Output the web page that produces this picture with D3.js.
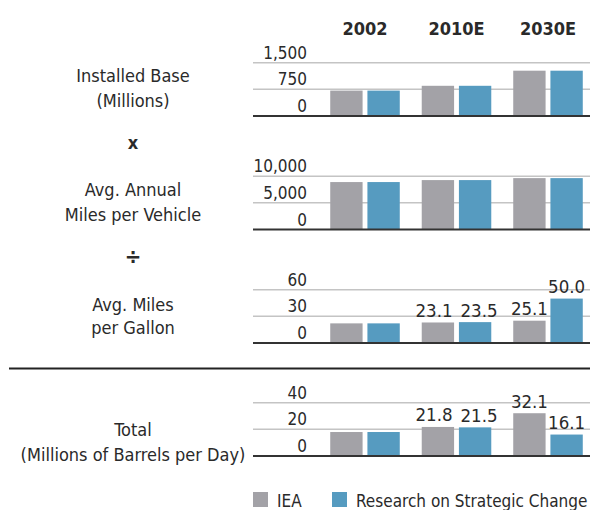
<!DOCTYPE html>
<html>
<head>
<meta charset="utf-8">
<script src="https://cdn.jsdelivr.net/npm/d3@7"></script>
<style>
  html, body { margin: 0; padding: 0; background: #fff; }
  svg { display: block; font-family: "DejaVu Sans Condensed", "DejaVu Sans", sans-serif; font-stretch: condensed; }
</style>
</head>
<body>
<svg id="chart" width="590" height="510"></svg>
<script>
// Data
const years = ["2002", "2010E", "2030E"];
const seriesNames = ["IEA", "Research on Strategic Change"];

const installedIEA = [715, 850, 1275];
const installedRSC = [715, 850, 1275];
const milesIEA = [8900, 9270, 9640];
const milesRSC = [8900, 9270, 9640];
const mpgIEA = [22.1, 23.1, 25.1];
const mpgRSC = [22.1, 23.5, 50.0];
const totalIEA = [18.0, 21.8, 32.1];
const totalRSC = [18.0, 21.5, 16.1];

const installedTicks = [0, 750, 1500];
const milesTicks = [0, 5000, 10000];
const mpgTicks = [0, 30, 60];
const totalTicks = [0, 20, 40];

// which years get a value label over the bars
const labelledYears = ["2010E", "2030E"];

const COLORS = { IEA: "#a3a2a7", "Research on Strategic Change": "#569bc0" };
const TEXT = "#2a2a2a";

const svg = d3.select("#chart");

const x = d3.scaleBand().domain(years).range([319.25, 593.75])
  .paddingInner(0.24).paddingOuter(0.12);
const xInner = d3.scaleBand().domain(seriesNames).range([0, x.bandwidth()])
  .paddingInner(0.13);

const fmt = d3.format(",");

// Year headers
svg.append("g").selectAll("text")
  .data(years)
  .join("text")
  .attr("x", d => x(d) + x.bandwidth() / 2)
  .attr("y", 35)
  .attr("text-anchor", "middle")
  .attr("font-size", 18)
  .attr("font-weight", "bold")
  .attr("fill", TEXT)
  .text(d => d);

const panels = [
  { lines: ["Installed Base", "(Millions)"], labelY: 82, ieaVals: installedIEA, rscVals: installedRSC, ticks: installedTicks, base: 116, labels: false },
  { lines: ["Avg. Annual", "Miles per Vehicle"], labelY: 196, ieaVals: milesIEA, rscVals: milesRSC, ticks: milesTicks, base: 229.5, labels: false },
  { lines: ["Avg. Miles", "per Gallon"], labelY: 311, ieaVals: mpgIEA, rscVals: mpgRSC, ticks: mpgTicks, base: 343, labels: true, lh: 23 },
  { lines: ["Total", "(Millions of Barrels per Day)"], labelY: 436, ieaVals: totalIEA, rscVals: totalRSC, ticks: totalTicks, base: 456, labels: true },
];

const PANEL_H = 53.3;

panels.forEach(p => {
  const g = svg.append("g");
  const y = d3.scaleLinear()
    .domain([0, p.ticks[p.ticks.length - 1]])
    .range([p.base, p.base - PANEL_H]);

  // gridlines
  g.selectAll("line.grid")
    .data(p.ticks.slice(1))
    .join("line")
    .attr("class", "grid")
    .attr("x1", 253).attr("x2", 590)
    .attr("y1", d => y(d)).attr("y2", d => y(d))
    .attr("stroke", "#c4c4c4")
    .attr("stroke-width", 1.5);

  // tick labels
  g.selectAll("text.tick")
    .data(p.ticks)
    .join("text")
    .attr("class", "tick")
    .attr("x", 307)
    .attr("y", d => y(d) - 4)
    .attr("text-anchor", "end")
    .attr("font-size", 17)
    .attr("fill", TEXT)
    .text(d => fmt(d));

  // bars
  const rows = [];
  years.forEach((yr, i) => {
    rows.push({ year: yr, series: "IEA", value: p.ieaVals[i] });
    rows.push({ year: yr, series: "Research on Strategic Change", value: p.rscVals[i] });
  });

  g.selectAll("rect")
    .data(rows)
    .join("rect")
    .attr("x", d => x(d.year) + xInner(d.series))
    .attr("y", d => y(d.value))
    .attr("width", xInner.bandwidth())
    .attr("height", d => y(0) - y(d.value))
    .attr("fill", d => COLORS[d.series]);

  // baseline
  g.append("line")
    .attr("x1", 253).attr("x2", 590)
    .attr("y1", y(0)).attr("y2", y(0))
    .attr("stroke", "#333")
    .attr("stroke-width", 2);

  if (p.labels) {
    const vals = g.selectAll("text.val")
      .data(rows.filter(d => labelledYears.includes(d.year)))
      .join("text")
      .attr("class", "val")
      .attr("x", d => x(d.year) + xInner(d.series) + xInner.bandwidth() / 2)
      .attr("y", d => y(d.value) - 5.5)
      .attr("text-anchor", "middle")
      .attr("font-size", 18.5)
      .attr("fill", TEXT)
      .text(d => d3.format(".1f")(d.value));

    // push apart the two labels of a year when they sit at the same height
    labelledYears.forEach(yr => {
      const pair = vals.filter(d => d.year === yr).nodes();
      if (pair.length !== 2) return;
      const a = pair[0].getBBox(), b = pair[1].getBBox();
      if (Math.abs(a.y - b.y) > a.height * 0.6) return;
      const gap = 8;
      const overlap = (a.x + a.width + gap) - b.x;
      if (overlap > 0) {
        d3.select(pair[0]).attr("x", +pair[0].getAttribute("x") - overlap / 2);
        d3.select(pair[1]).attr("x", +pair[1].getAttribute("x") + overlap / 2);
      }
    });
  }

  // row label on the left
  const lh = p.lh || 25;
  g.append("text")
    .attr("text-anchor", "middle")
    .attr("font-size", 18)
    .attr("fill", TEXT)
    .selectAll("tspan")
    .data(p.lines)
    .join("tspan")
    .attr("x", 133)
    .attr("y", (d, i) => p.labelY + i * lh)
    .text(d => d);
});

// operators between rows
svg.append("text")
  .attr("x", 133).attr("y", 149)
  .attr("text-anchor", "middle")
  .attr("font-size", 18).attr("font-weight", "bold")
  .attr("fill", TEXT)
  .text("x");

svg.append("text")
  .attr("x", 133).attr("y", 264)
  .attr("text-anchor", "middle")
  .attr("font-size", 22).attr("font-weight", "bold")
  .attr("fill", TEXT)
  .text("\u00f7");

// heavy rule above the total row
svg.append("line")
  .attr("x1", 9).attr("x2", 590)
  .attr("y1", 368.5).attr("y2", 368.5)
  .attr("stroke", "#222")
  .attr("stroke-width", 2.2);

// legend
const legend = svg.append("g").selectAll("g")
  .data(seriesNames)
  .join("g")
  .attr("transform", (d, i) => "translate(" + [253, 332][i] + ",492)");

legend.append("rect")
  .attr("width", 15).attr("height", 15)
  .attr("fill", d => COLORS[d]);

legend.append("text")
  .attr("x", 24)
  .attr("y", 15)
  .attr("font-size", 17)
  .attr("fill", TEXT)
  .text(d => d);
</script>
</body>
</html>
